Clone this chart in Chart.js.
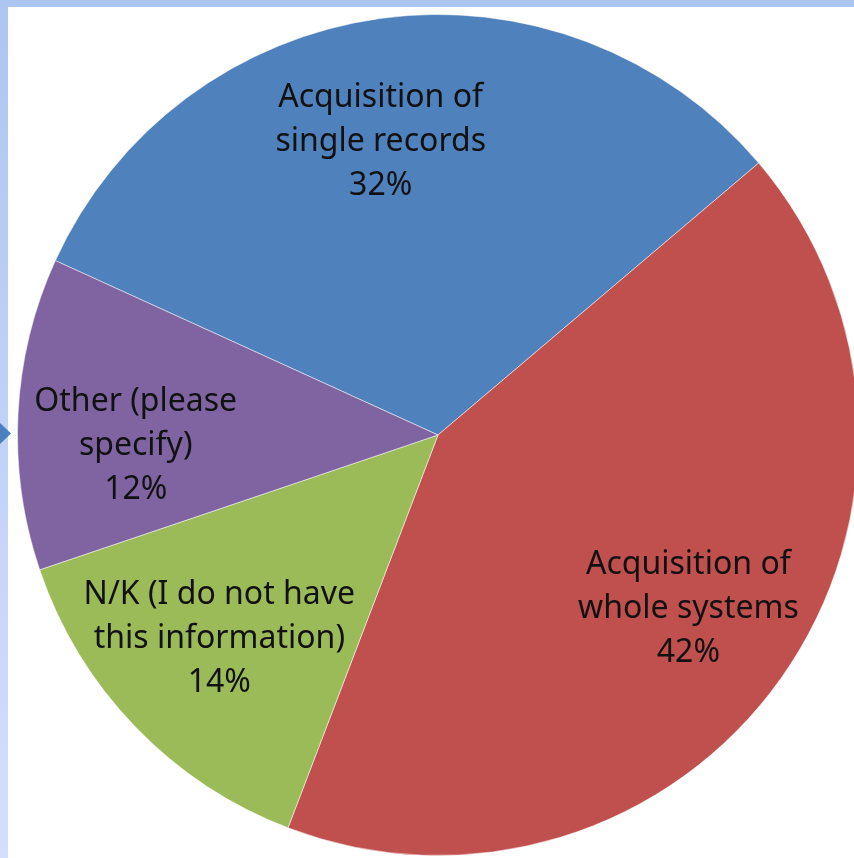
<!DOCTYPE html>
<html>
<head>
<meta charset="utf-8">
<script src="https://cdn.jsdelivr.net/npm/chart.js@4"></script>
<style>
  html, body { margin: 0; padding: 0; background: #fff; overflow: hidden; }
  body { width: 854px; height: 858px; position: relative; }
  .top-band { position: absolute; left: 0; top: 0; width: 854px; height: 7px; background: #adc6ef; }
  .left-band { position: absolute; left: 0; top: 0; width: 8px; height: 858px;
    background: linear-gradient(#adc6ef, #d5deff); }
  .arrow { position: absolute; left: 0; top: 423px; width: 11px; height: 21px; background: #4a7fc0;
    clip-path: polygon(0 0, 100% 50%, 0 100%); }
  #wrap { position: absolute; left: 17px; top: 14px; width: 842px; height: 842px; }
</style>
</head>
<body>
<div class="top-band"></div>
<div class="left-band"></div>
<div class="arrow"></div>
<div id="wrap"><canvas id="pie"></canvas></div>
<script>
// slice data, clockwise starting from the blue slice
const categories = [
  ['Acquisition of', 'single records'],
  ['Acquisition of', 'whole systems'],
  ['N/K (I do not have', 'this information)'],
  ['Other (please', 'specify)']
]
const shares = [32, 42, 14, 12]
const sliceColors = ['#4f81bd', '#c0504d', '#9bbb59', '#8064a2']

// draw labels inside each slice, along its middle angle (with Excel-like nudges)
const nudges = [[-16, 5], [5, 0], [-2, -5], [-2, 26]]
const sliceLabels = {
  id: 'sliceLabels',
  afterDatasetsDraw(chart) {
    const ctx = chart.ctx
    const meta = chart.getDatasetMeta(0)
    ctx.save()
    ctx.font = '32px "Noto Sans", sans-serif'
    ctx.fillStyle = '#111'
    ctx.textAlign = 'center'
    ctx.textBaseline = 'middle'
    meta.data.forEach((arc, i) => {
      const { x, y, startAngle, endAngle, outerRadius } = arc.getProps(['x', 'y', 'startAngle', 'endAngle', 'outerRadius'], true)
      const mid = (startAngle + endAngle) / 2
      const r = outerRadius * 0.715
      const cx = x + Math.cos(mid) * r + nudges[i][0]
      const cy = y + Math.sin(mid) * r + nudges[i][1]
      const lines = [...categories[i], shares[i] + '%']
      lines.forEach((line, j) => {
        ctx.fillText(line, cx, cy + (j - 1) * 44)
      })
    })
    ctx.restore()
  }
}

new Chart(document.getElementById('pie').getContext('2d'), {
  type: 'pie',
  data: {
    labels: categories.map(c => c.join(' ')),
    datasets: [{
      data: shares,
      backgroundColor: sliceColors,
      borderColor: 'rgba(255, 255, 255, 0.5)',
      borderWidth: 1
    }]
  },
  options: {
    responsive: true,
    maintainAspectRatio: false,
    animation: false,
    rotation: -65.5,
    layout: { padding: 0 },
    plugins: {
      legend: { display: false },
      tooltip: { enabled: false }
    }
  },
  plugins: [sliceLabels]
})
</script>
</body>
</html>
